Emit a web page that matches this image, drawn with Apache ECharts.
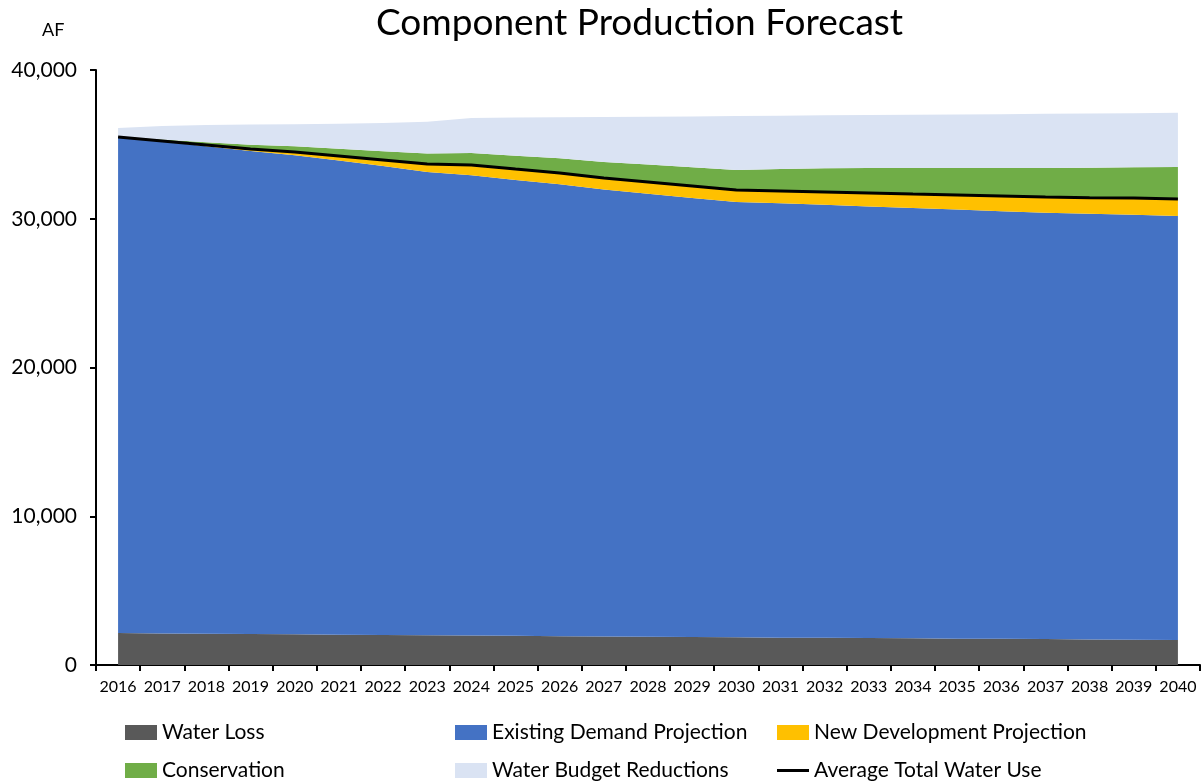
<!DOCTYPE html>
<html>
<head>
<meta charset="utf-8">
<script src="https://cdn.jsdelivr.net/npm/echarts@6/dist/echarts.min.js"></script>
<style>
html,body{margin:0;padding:0;background:#fff;}
#ForecastChart{width:1201px;height:784px;}
</style>
</head>
<body>
<div id="ForecastChart"></div>
<script>
var years = ['2016','2017','2018','2019','2020','2021','2022','2023','2024','2025','2026','2027','2028',
    '2029','2030','2031','2032','2033','2034','2035','2036','2037','2038','2039','2040'];
var waterLoss = [2150,2120,2100,2080,2060,2040,2020,2000,1980,1960,1940,1920,1900,1880,1860,1840,1830,1810,1790,1770,1760,1740,1720,1700,1680];
var existingDemand = [33350,33080,32780,32470,32210,31870,31520,31140,30950,30650,30380,30040,29780,29520,29270,29210,29110,29020,28930,28850,28750,28660,28610,28570,28500];
var newDevelopment = [0,30,80,140,220,310,410,540,680,730,760,780,790,800,800,820,860,900,940,980,1020,1060,1090,1120,1150];
var conservation = [0,100,190,290,380,480,580,700,810,900,990,1080,1170,1260,1340,1470,1600,1680,1750,1820,1890,1950,2010,2080,2150];
var budgetReductions = [600,900,1150,1350,1480,1680,1910,2140,2350,2560,2750,3020,3220,3420,3630,3580,3550,3560,3580,3590,3610,3650,3650,3630,3640];
var avgTotalUse = [35500,35230,34960,34690,34490,34220,33950,33680,33610,33340,33080,32740,32470,32200,31930,31870,31800,31730,31660,31600,31530,31460,31420,31390,31330];

var chart = echarts.init(document.getElementById('ForecastChart'));
var font = 'Lato, "Open Sans", sans-serif';

function areaSeries(name, data, color) {
    return {
        name: name,
        type: 'line',
        stack: 'total',
        data: data,
        symbol: 'none',
        lineStyle: {width: 0},
        areaStyle: {color: color, opacity: 1},
        itemStyle: {color: color},
        emphasis: {disabled: true}
    };
}

// one legend per item so the two rows line up like the original
function legendItem(name, left, top, isLine) {
    return {
        left: left, top: top,
        itemWidth: 32, itemHeight: isLine ? 3 : 15, itemGap: 0,
        textStyle: {fontFamily: font, fontSize: 21, color: '#000'},
        data: [{name: name, icon: 'rect'}]
    };
}

var option = {
    animation: false,
    textStyle: {fontFamily: font},
    title: [
        {text: 'Component Production Forecast', left: 371, top: 0,
         textStyle: {fontFamily: font, fontSize: 37, fontWeight: 'normal', color: '#000'}},
        {text: 'AF', left: 37, top: 16,
         textStyle: {fontFamily: font, fontSize: 18, fontWeight: 'normal', color: '#000'}}
    ],
    legend: [
        legendItem('Water Loss', 120, 717),
        legendItem('Existing Demand Projection', 450, 717),
        legendItem('New Development Projection', 772, 717),
        legendItem('Conservation', 120, 755),
        legendItem('Water Budget Reductions', 450, 755),
        legendItem('Average Total Water Use', 772, 755, true)
    ],
    grid: {left: 96, right: 1, top: 70, bottom: 119},
    xAxis: {
        type: 'category',
        data: years,
        boundaryGap: true,
        axisLine: {lineStyle: {color: '#000', width: 2}},
        axisTick: {show: true, length: 6, lineStyle: {color: '#000', width: 2}},
        axisLabel: {interval: 0, fontSize: 16, color: '#000', margin: 14, fontFamily: font},
        splitLine: {show: false}
    },
    yAxis: {
        type: 'value',
        min: 0,
        max: 40000,
        interval: 10000,
        axisLine: {show: true, lineStyle: {color: '#000', width: 2}},
        axisTick: {show: true, length: 6, lineStyle: {color: '#000', width: 2}},
        axisLabel: {fontSize: 21, color: '#000', margin: 19, fontFamily: font,
            formatter: function (v) { return v.toLocaleString('en-US'); }},
        splitLine: {show: false}
    },
    series: [
        areaSeries('Water Loss', waterLoss, '#595959'),
        areaSeries('Existing Demand Projection', existingDemand, '#4472C4'),
        areaSeries('New Development Projection', newDevelopment, '#FFC000'),
        areaSeries('Conservation', conservation, '#70AD47'),
        areaSeries('Water Budget Reductions', budgetReductions, '#DAE3F3'),
        {
            name: 'Average Total Water Use',
            type: 'line',
            data: avgTotalUse,
            symbol: 'none',
            z: 5,
            lineStyle: {color: '#000', width: 3},
            itemStyle: {color: '#000'},
            emphasis: {disabled: true}
        }
    ]
};

chart.setOption(option);
</script>
</body>
</html>
